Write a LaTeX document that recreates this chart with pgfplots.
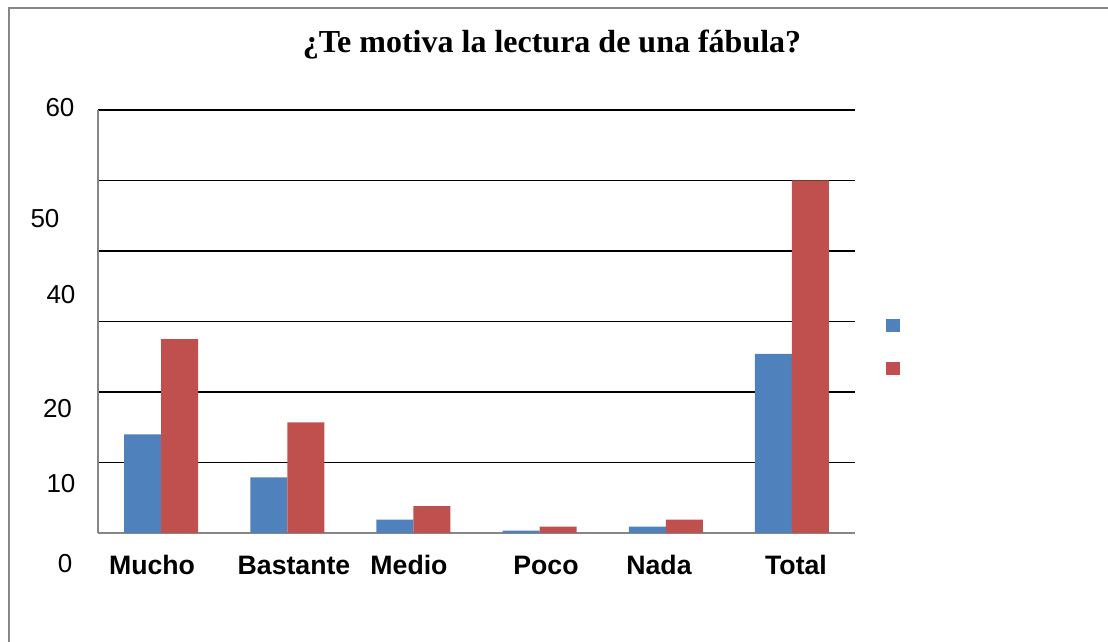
\documentclass[border=0pt]{standalone}
\usepackage{pgfplots}
\pgfplotsset{compat=1.18}
\usepackage{fontspec}
\setmainfont{Liberation Serif}
\newfontfamily\arial{Liberation Sans}
\definecolor{xlblue}{HTML}{4F81BD}
\definecolor{xlred}{HTML}{C0504D}
\definecolor{axgray}{HTML}{868686}
\begin{document}
\begin{tikzpicture}[x=0.75pt,y=0.75pt]
\useasboundingbox (0,0) rectangle (1108,642);
\draw[axgray, line width=1.5pt] (9,-5) -- (9,634) -- (1115,634);
\begin{axis}[
  at={(73.5pt,81.75pt)}, anchor=south west,
  width=567.75pt, height=317.25pt, scale only axis,
  ybar=0pt, bar width=27.75pt,
  xmin=-0.5, xmax=5.5, ymin=0, ymax=60,
  xtick={0,1,2,3,4,5}, xticklabels={}, xtick style={draw=none},
  ytick={10,20,30,40,50,60}, yticklabels={}, ytick style={draw=none},
  ymajorgrids, grid style={black, line width=1pt},
  axis x line*=bottom, axis y line*=left,
  axis line style={axgray, line width=1.2pt, -},
  clip=false,
  legend image code/.code={\fill[#1] (0pt,0pt) rectangle (10.5pt,9.75pt);},
  legend style={draw=none, fill=none, at={(1.041,0.506)}, anchor=north west,
    inner sep=0pt, outer sep=0pt, row sep=21.75pt,
    nodes={inner sep=0pt, outer sep=0pt}},
]
\addplot[fill=xlblue, draw=none] coordinates {(0,14) (1,7.9) (2,1.9) (3,0.33) (4,0.9) (5,25.4)};
\addlegendentry{}
\addplot[fill=xlred, draw=none] coordinates {(0,27.5) (1,15.7) (2,3.8) (3,0.9) (4,1.9) (5,50)};
\addlegendentry{}
\end{axis}
% title
\node[anchor=base, font=\bfseries\fontsize{24}{28}\selectfont] at (552,589) {¿Te motiva la lectura de una fábula?};
% y tick labels (as placed in the reference)
\begin{scope}[every node/.style={font=\arial\fontsize{19.5}{23}\selectfont, inner sep=0pt}]
\node at (60,534.5) {60};
\node at (45,423) {50};
\node at (61,347) {40};
\node at (57.5,233) {20};
\node at (61,158) {10};
\node at (65,78) {0};
\end{scope}
% category labels
\begin{scope}[every node/.style={font=\arial\bfseries\fontsize{20}{24}\selectfont, inner sep=0pt, anchor=base}]
\node at (152,67) {Mucho};
\node at (294,67) {Bastante};
\node at (409,67) {Medio};
\node at (546,67) {Poco};
\node at (659,67) {Nada};
\node at (796,67) {Total};
\end{scope}
\end{tikzpicture}
\end{document}
